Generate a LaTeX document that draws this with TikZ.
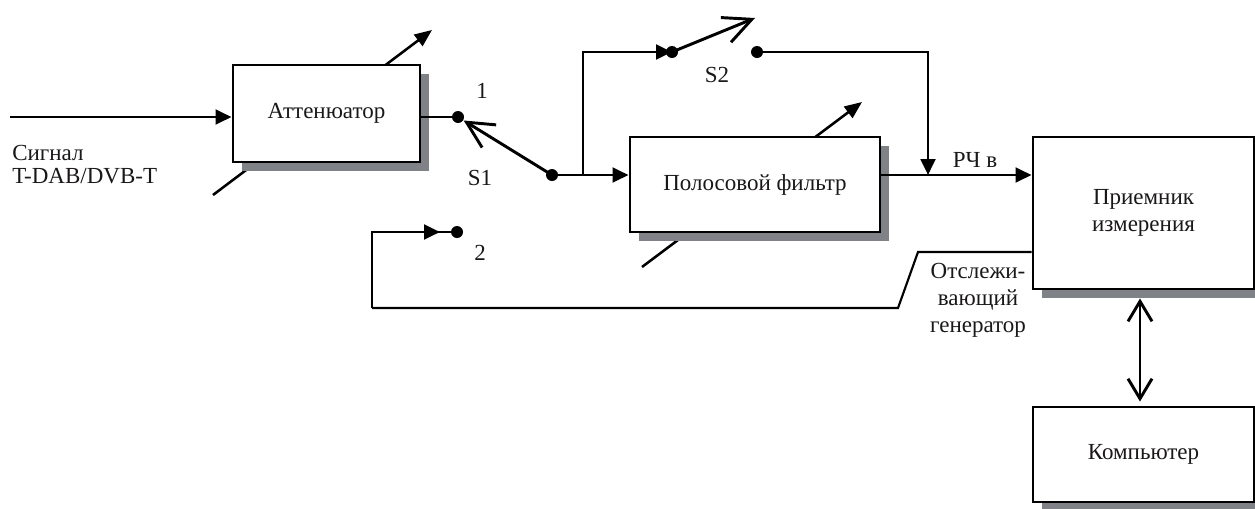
\documentclass[tikz,border=0pt]{standalone}
\usepackage{fontspec}
\setmainfont{Liberation Serif}
\usetikzlibrary{arrows.meta,shadows,calc}
\definecolor{shd}{HTML}{7F8388}
\definecolor{txt}{HTML}{1A1718}
\begin{document}
\begin{tikzpicture}[x=0.75pt,y=-0.75pt,
  every node/.style={font=\fontsize{17.25}{20.25}\selectfont, inner sep=0pt, text=txt},
  ln/.style={line width=2.2pt, draw=black},
  fb/.style={line width=1.6pt, draw=black},
  arr/.style={ln, -{Triangle[length=12pt,width=11pt]}},
  adj/.style={line width=1.9pt, -{Triangle[length=13pt,width=10.5pt]}},
  barb/.style={ln, -{Straight Barb[length=20pt,width=20pt]}},
  blk/.style={draw, line width=2.2pt, fill=white, align=center,
    drop shadow={shadow xshift=6.75pt, shadow yshift=-6.75pt, fill=shd, opacity=1}},
  jdot/.style={circle, fill=black, minimum size=9pt, inner sep=0pt},
]
\useasboundingbox (0,0) rectangle (1255,508);

% adjustment arrows (behind boxes)
\coordinate (attc) at (326.5,113.5);
\coordinate (fltc) at (755,184.5);
\draw[adj] ($(attc)+(-113.5,81.5)$) -- ($(attc)+(105.5,-83.5)$);
\draw[adj] ($(fltc)+(-113,82.5)$) -- ($(fltc)+(107,-82.5)$);

% blocks
\node[blk, minimum width=140.25pt, minimum height=72.75pt] (att) at (attc) {Аттенюатор};
\node[blk, minimum width=187.5pt, minimum height=71.25pt] (flt) at (fltc) {Полосовой фильтр};
\node[blk, minimum width=165.75pt, minimum height=114pt] (rcv) at (1143.5,213) {Приемник\\измерения};
\node[blk, minimum width=165.75pt, minimum height=71.25pt] (cmp) at (1143.5,454.5) {Компьютер};

% input
\coordinate (in) at (10,117);
\draw[arr] (in) -- (in -| att.west);
\node[anchor=base west] (sig1) at (12,160) {Сигнал};
\node[anchor=base west] (sig2) at (12,183) {T-DAB/DVB-T};

% switch S1
\node[jdot] (d1) at (458,117) {};
\node[jdot] (d2) at (552,175) {};
\draw[ln] (d1 -| att.east) -- (d1);
\draw[barb] (d2.center) -- ($(d2.center)!0.94!(d1.center)$);
\draw[arr] (d2) -- (d2 -| flt.west);
\node[anchor=base] (l1) at (482,98) {1};
\node[anchor=base] (ls1) at (480,185) {S1};

% switch S2 bypass
\coordinate (br) at (583,175);
\node[jdot] (s2a) at (672,52) {};
\node[jdot] (s2b) at (757,52) {};
\coordinate (s2t) at (755,18);
\draw[arr] (br) |- (s2a.center);
\draw[ln, -{Straight Barb[length=21pt,width=20pt]}] (s2a.center) -- (s2t);
\coordinate (j) at (928,175);
\draw[arr] (s2b) -| (j);
\node[anchor=base] (ls2) at (717,82) {S2};

% filter to receiver
\draw[arr] (flt.east |- j) -- (j -| rcv.west);
\node[anchor=base] (rf) at (975,167) {РЧ в};

% tracking generator feedback
\coordinate (g0) at ($(rcv.west)+(0,39)$);
\coordinate (g1) at (918,252);
\coordinate (g2) at (898,308);
\coordinate (g3) at (372,308);
\coordinate (g4) at (372,232);
\coordinate (g5) at (440,232);
\node[jdot] (d3) at (457,232) {};
\draw[fb] (g0) -- (g1) -- (g2) -- (g3);
\draw[ln] (g3) -- (g4) -- (d3);
\draw[arr] (g4) -- (g5);
\node[anchor=base] (l2) at (480,260) {2};
\node[anchor=base] (gen1) at (978,278) {Отслежи-};
\node[anchor=base] (gen2) at (978,305) {вающий};
\node[anchor=base] (gen3) at (978,332) {генератор};

% receiver <-> computer
\draw[line width=2.2pt, {Straight Barb[length=15pt,width=18pt]}-{Straight Barb[length=15pt,width=18pt]}]
  ([shift={(-3.5,8)}]rcv.south) -- ([shift={(-3.5,-4)}]cmp.north);
\end{tikzpicture}
\end{document}
